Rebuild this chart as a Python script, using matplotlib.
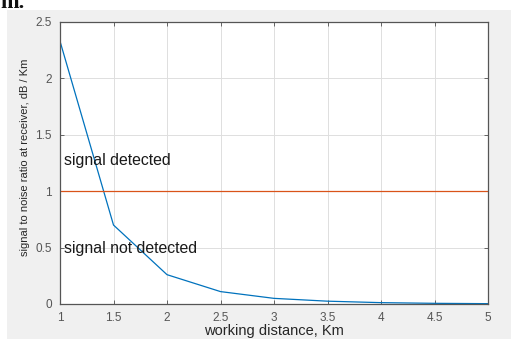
import matplotlib
matplotlib.use("Agg")
import matplotlib.pyplot as plt
from matplotlib.patches import Rectangle

# data
distance_km = [1, 1.5, 2, 2.5, 3, 3.5, 4, 4.5, 5]
snr_db = [2.33, 0.70, 0.26, 0.11, 0.05, 0.025, 0.012, 0.006, 0.003]
threshold = 1.0
x_ticks = [1, 1.5, 2, 2.5, 3, 3.5, 4, 4.5, 5]
y_ticks = [0, 0.5, 1, 1.5, 2, 2.5]

plt.rcParams["font.family"] = ["Liberation Sans", "DejaVu Sans"]

W, H = 511, 339
fig = plt.figure(figsize=(W / 100, H / 100), dpi=100, facecolor="white")

# grey MATLAB figure background below the white page strip
fig.patches.append(Rectangle((7 / W, 0), 1 - 7 / W, 1 - 10 / H,
                             transform=fig.transFigure, facecolor="#f0f0f0",
                             edgecolor="none", zorder=-5))
# bottom of the page text that was cropped above the figure
fig.text(0 / W, 1 - 8 / H, "m.", fontsize=16, family="Liberation Serif",
         fontweight="bold", va="baseline", ha="left", color="#111111")

ax = fig.add_axes([60 / W, 1 - 304 / H, (488 - 60) / W, (304 - 22) / H])
ax.set_zorder(1)
ax.set_facecolor("white")

ax.plot(distance_km, snr_db, color="#0072BD", linewidth=0.9)
ax.axhline(threshold, color="#D95319", linewidth=0.9)

ax.text(1.04, 1.27, "signal detected", fontsize=11.4, color="#1a1a1a", va="center")
ax.text(1.04, 0.49, "signal not detected", fontsize=11.4, color="#1a1a1a", va="center")

ax.set_xlim(1, 5)
ax.set_ylim(0, 2.5)
ax.set_xticks(x_ticks)
ax.set_xticklabels([f"{v:g}" for v in x_ticks])
ax.set_yticks(y_ticks)
ax.set_yticklabels([f"{v:g}" for v in y_ticks])
ax.grid(True, color="#dedede", linewidth=0.7)
ax.set_axisbelow(True)

ax.tick_params(direction="in", length=3, width=0.6, color="#505050",
               labelsize=8.5, labelcolor="#555555", top=True, right=True, pad=6)
for s in ax.spines.values():
    s.set_color("#555555")
    s.set_linewidth(0.9)

ax.set_xlabel("working distance, Km", fontsize=10.5, color="#262626", va="center")
ax.xaxis.set_label_coords(0.5, -0.097)
ax.set_ylabel("signal to noise ratio at receiver, dB / Km", fontsize=8,
              color="#262626", va="center")
ax.yaxis.set_label_coords(-0.082, 0.52)

fig.savefig("out.png", dpi=100)
